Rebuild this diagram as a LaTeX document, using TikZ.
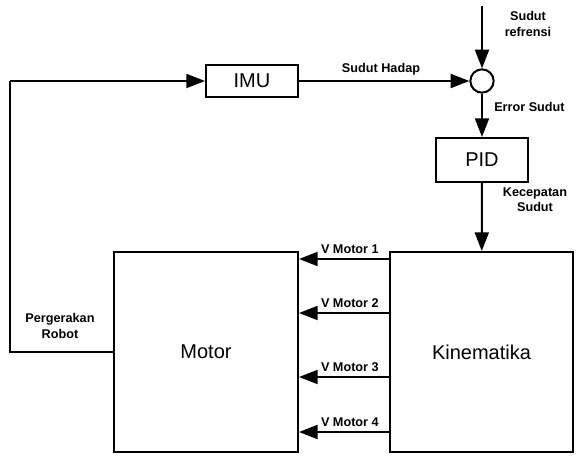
\documentclass[tikz,border=0pt]{standalone}
\usepackage{fontspec}
\setmainfont{Liberation Sans}
\usetikzlibrary{arrows.meta}
\begin{document}
\begin{tikzpicture}[x=0.75pt,y=-0.75pt,
  blk/.style={draw,line width=1.5pt,inner sep=0pt,font=\fontsize{15}{18}\selectfont},
  lbl/.style={font=\bfseries\fontsize{9.5}{11.5}\selectfont,inner sep=0pt,align=center},
  conn/.style={line width=1.5pt,-{Triangle[length=14pt,width=10.5pt]}},
  plain/.style={line width=1.5pt}]
\useasboundingbox (0,0) rectangle (578,456);
\node[blk,minimum width=69pt,minimum height=24pt] (imu) at (252,81) {IMU};
\node[draw,circle,line width=1.5pt,minimum size=17.5pt,inner sep=0pt] (sum) at (482,81) {};
\node[blk,minimum width=69pt,minimum height=33pt] (pid) at (482,160) {PID};
\node[blk,minimum width=138pt,minimum height=150pt] (motor) at (206,352) {Motor};
\node[blk,minimum width=137pt,minimum height=150pt] (kin) at (481.5,352) {Kinematika};
\coordinate (ref) at (482,6);
\coordinate (fbl) at (10,352);
\coordinate (fbt) at (10,81);
\draw[conn] (ref) -- (sum);
\draw[conn] (imu) -- (sum);
\draw[conn] (sum) -- (pid);
\draw[conn] (pid) -- (kin);
\draw[conn] (fbt) -- (imu);
\draw[plain] (motor.west) -- (fbl) -- (fbt);
\foreach \i/\y in {1/259,2/313,3/377,4/432}{
  \draw[conn] (kin.west |- 0,\y) -- (motor.east |- 0,\y);
  \node[lbl,anchor=south east] (vm\i) at (379,\y-5) {V Motor \i};
}
\node[lbl] (lref) at (528,24) {Sudut\\refrensi};
\node[lbl] (lhadap) at (381,69) {Sudut Hadap};
\node[lbl,anchor=west] (lerr) at (494,107) {Error Sudut};
\node[lbl] (lkec) at (535,200) {Kecepatan\\Sudut};
\node[lbl] (lperg) at (60,326) {Pergerakan\\Robot};
\end{tikzpicture}
\end{document}
